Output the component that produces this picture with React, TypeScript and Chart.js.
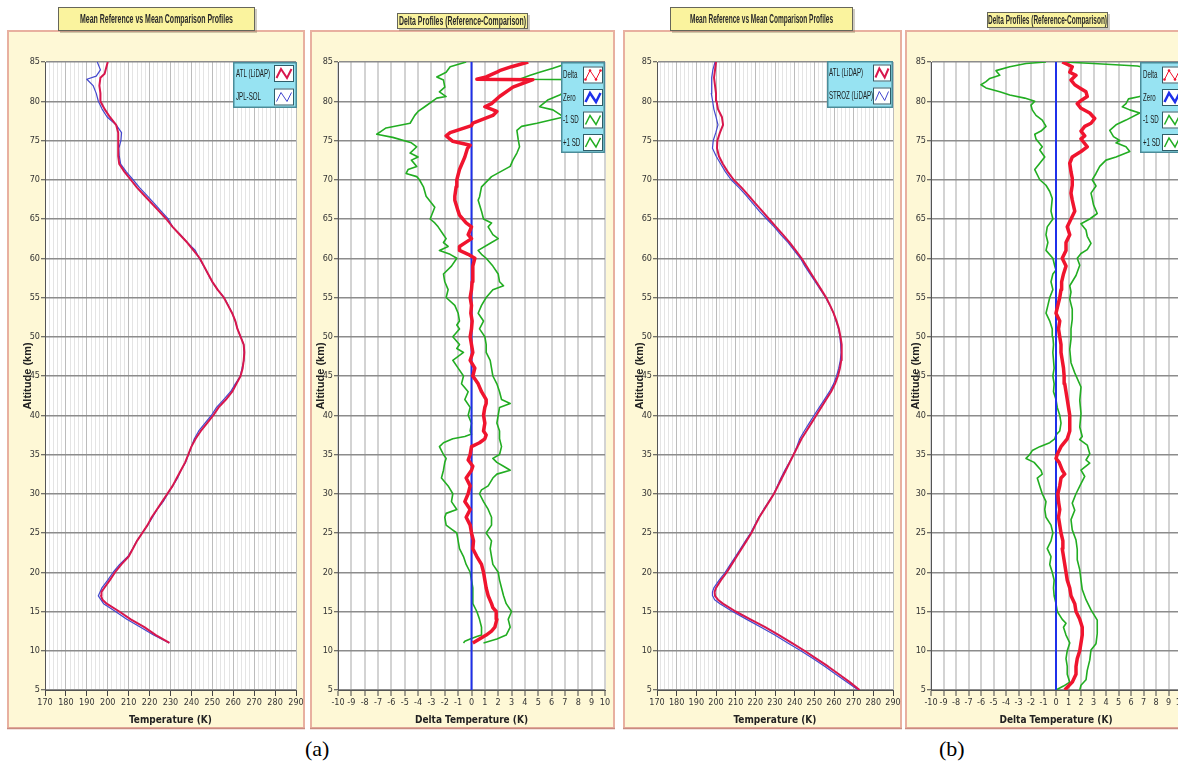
import React, { useEffect, useRef } from "react";
import { Chart, registerables } from "chart.js";

Chart.register(...registerables);

type Pt = [number, number]; // [altitude km, value]

// ---------------- Panel (a) : mean profiles ----------------
const atlProfileA: Pt[] = [
  [11, 229.5], [12, 223], [13, 217.5], [14, 211], [15, 205.5], [16, 199.5], [16.5, 197.5], [17, 196.8], [17.5, 197],
  [18, 198.3], [19, 201], [20, 203.5], [21, 206.5], [22, 210], [23, 212], [24, 214], [25, 216.5], [26, 219], [27, 221],
  [28, 223.5], [29, 226], [30, 228.5], [31, 231], [32, 233], [33, 235], [34, 237], [35, 238.5], [36, 240], [37, 242],
  [38, 244.5], [39, 247.5], [40, 250.5], [41, 253], [42, 256.5], [43, 259.5], [44, 261.5], [45, 263.5], [46, 264.5],
  [47, 265], [48, 265.3], [49, 265], [50, 263.5], [51, 262], [52, 261], [53, 259.5], [54, 257.5], [55, 255.5], [56, 252.5],
  [57, 250], [58, 248], [59, 246], [60, 244], [61, 241], [62, 238], [63, 234.5], [64, 231], [65, 228], [66, 224.5],
  [67, 221], [68, 217.5], [69, 214], [70, 211], [71, 208], [72, 205.5], [73, 205], [74, 205], [75, 205], [76, 205],
  [77, 204], [78, 201], [79, 198.5], [79.5, 197.5], [80, 196.5], [81, 196.5], [82, 196], [83, 196.5], [83.5, 198.5],
  [84, 199], [85, 200],
];
const jplProfileA: Pt[] = [
  [11, 229.4], [12, 221.9], [13, 215.7], [14, 209.1], [15, 203.7], [16, 198.0], [17, 195.5], [18, 197.2], [19, 200.0],
  [20, 202.6], [21, 205.7], [22, 209.6], [23, 211.9], [24, 213.9], [25, 216.5], [26, 219.1], [27, 221.4], [28, 223.6],
  [29, 226.5], [30, 228.7], [31, 231.1], [32, 233.4], [33, 235.0], [34, 237.2], [35, 238.6], [36, 240.0], [37, 241.4],
  [38, 243.5], [39, 246.5], [40, 249.6], [41, 252.0], [42, 255.4], [43, 258.7], [44, 261.0], [45, 263.4], [46, 264.2],
  [47, 265.1], [48, 265.2], [49, 265.0], [50, 263.6], [51, 262.0], [52, 261.0], [53, 259.5], [54, 257.6], [55, 255.6],
  [56, 252.5], [57, 249.9], [58, 247.9], [59, 245.9], [60, 243.7], [61, 241.9], [62, 238.0], [63, 234.7], [64, 231.0],
  [65, 228.9], [66, 225.5], [67, 222.2], [68, 218.7], [69, 215.2], [70, 212.1], [71, 208.9], [72, 206.2], [73, 205.5],
  [74, 205.3], [75, 206.3], [76, 206.6], [77, 204.0], [78, 199.7], [79, 197.3], [80, 195.5], [81, 194.5], [82, 193],
  [82.8, 190], [83.2, 194.5], [84, 196.5], [85, 195],
];

// ---------------- Panel (a) : delta profiles ----------------
const deltaProfileA: Pt[] = [
  [11, 0.1], [11.5, 0.6], [12, 1.1], [12.5, 1.5], [13, 1.75], [14, 1.9], [15, 1.85], [15.5, 1.6], [16, 1.5], [17, 1.25],
  [18, 1.1], [19, 1.0], [20, 0.9], [21, 0.75], [22, 0.4], [23, 0.1], [24, 0.15], [25, 0.0], [26, -0.1], [27, -0.4],
  [28, -0.1], [29, -0.5], [30, -0.25], [31, -0.1], [32, -0.4], [33, 0.0], [33.5, 0.1], [34.3, -0.25], [35, -0.1],
  [36, 0.0], [36.5, 0.6], [37, 1.0], [37.5, 1.1], [38, 0.9], [39, 1.0], [40, 0.9], [41, 1.0], [41.5, 1.1], [42, 1.1],
  [43, 0.75], [44, 0.5], [45, 0.1], [46, 0.25], [47, -0.1], [48, 0.1], [49, 0.0], [50, -0.1], [51, 0.0], [52, 0.05],
  [53, -0.05], [54, 0.0], [55, -0.1], [56, 0.0], [57, 0.05], [58, 0.1], [59, 0.1], [60, 0.25], [60.5, -0.25],
  [61, -0.9], [61.5, -0.9], [62.5, 0.0], [63, -0.25], [64, 0.0], [64.5, -0.4], [65.5, -0.9], [66, -1.0], [67.4, -1.25],
  [67.9, -1.25], [69.1, -1.15], [70, -1.1], [71.3, -0.9], [72.9, -0.5], [74, -0.3], [74.4, -0.1], [74.9, -1.4],
  [75.6, -1.9], [76, -1.6], [76.9, 0.0], [77.2, 0.1], [78.2, 1.6], [78.7, 1.9], [79.3, 1.0], [79.7, 1.5], [80.6, 2.1],
  [81.8, 3.1], [82.75, 4.6], [82.8, 0.4], [83.1, 1.1], [83.7, 1.9], [83.9, 2.1], [84.4, 3.0], [85, 4.25],
];
const minusSdProfileA: Pt[] = [
  [11, -0.6], [11.2, -0.5], [11.5, -0.1], [11.8, 0.4], [12, 0.75], [13, 0.75], [14, 0.6], [15, 0.4], [16, 0.1],
  [17, 0.1], [18, 0.1], [19, 0.0], [20, -0.1], [21, -0.4], [22, -0.6], [23, -0.9], [24, -1.0], [25, -1.1], [25.5, -1.5],
  [26, -1.9], [27, -2.0], [27.5, -1.9], [28, -1.1], [29, -1.5], [30, -1.4], [31, -1.75], [32, -2.25], [33, -2.1],
  [34, -2.0], [34.5, -1.9], [35, -2.1], [35.5, -2.25], [36, -2.4], [36.5, -2.1], [37, -1.4], [37.3, -0.5], [37.6, 0.0],
  [38, -0.1], [39, 0.0], [40, -0.25], [41, -0.1], [42, -0.5], [43, -0.25], [44, -0.75], [45, -0.6], [46, -1.0],
  [47, -1.4], [48, -0.6], [48.5, -1.1], [49, -0.9], [50, -1.4], [51, -0.9], [51.5, -1.1], [52, -0.9], [53, -1.0],
  [54, -1.25], [55, -1.9], [56, -1.75], [57, -2.0], [58, -2.1], [59, -1.5], [60, -1.1], [60.5, -1.6], [61, -2.4],
  [61.5, -1.75], [62, -2.1], [62.5, -1.9], [63, -2.1], [64, -2.5], [64.5, -2.75], [65, -3.1], [66.5, -2.75],
  [67.9, -3.4], [69.1, -3.6], [70, -3.9], [70.4, -4.1], [70.8, -4.9], [71.3, -4.75], [71.7, -4.1], [72.5, -4.5],
  [72.9, -4.0], [73.4, -4.6], [74.2, -4.1], [74.7, -4.5], [75.4, -5.9], [75.8, -7.1], [76.2, -6.75], [76.6, -6.4],
  [77.2, -4.6], [78.2, -4.25], [78.7, -4.0], [79.3, -3.5], [80.4, -2.6], [80.6, -1.9], [81.2, -2.4], [81.8, -2.0],
  [82.7, -2.1], [83.1, -2.6], [83.7, -1.9], [84.4, -1.6], [85, -0.4],
];
const plusSdProfileA: Pt[] = [
  [11, 0.9], [11.5, 1.9], [12, 2.6], [13, 2.9], [14, 2.75], [15, 3.0], [16, 2.6], [17, 2.4], [18, 2.25], [19, 2.1],
  [20, 2.0], [21, 1.6], [22, 1.5], [23, 1.4], [24, 1.5], [25, 1.1], [26, 1.5], [27, 1.5], [28, 1.25], [29, 0.9],
  [30, 0.6], [30.5, 0.75], [31, 1.25], [32, 1.6], [32.5, 1.9], [33, 2.9], [33.5, 2.4], [34, 1.9], [34.5, 1.6],
  [35, 2.1], [36, 2.25], [37, 2.1], [38, 2.1], [39, 1.9], [40, 2.0], [41, 2.1], [41.5, 2.9], [42, 2.25], [43, 2.1],
  [44, 1.9], [45, 1.6], [46, 1.5], [47, 1.4], [48, 1.1], [49, 1.1], [50, 1.0], [51, 0.6], [52, 0.9], [53, 0.5],
  [54, 0.75], [55, 1.1], [56, 1.6], [56.5, 2.4], [57, 2.1], [58, 2.0], [59, 1.6], [60, 1.1], [60.5, 0.75], [61, 0.5],
  [62, 1.5], [62.5, 2.0], [63, 1.6], [64, 1.25], [64.5, 1.5], [65, 0.9], [66, 0.75], [67.4, 0.5], [67.8, 0.6],
  [69.1, 0.75], [70.4, 1.5], [71.7, 2.9], [72.5, 3.1], [73.4, 3.4], [74.2, 3.6], [75.1, 3.5], [76.3, 3.4],
  [76.8, 3.75], [77.2, 4.9], [78.0, 6.9], [78.9, 6.1], [79.3, 5.1], [80.2, 5.75], [80.8, 6.6], [81.5, 7.4],
  [82.0, 7.6], [82.75, 8.5], [82.8, 3.6], [83.3, 4.4], [83.7, 5.1], [84.2, 6.1], [85, 7.5],
];

// ---------------- Panel (b) : mean profiles ----------------
const atlProfileB: Pt[] = [
  [5, 273], [6, 268], [7, 262.5], [8, 257], [9, 251], [10, 245], [11, 238.5], [12, 232], [13, 225], [14, 217.5],
  [15, 210], [16, 203.5], [16.5, 201], [17, 199.5], [17.5, 199.3], [18, 200], [19, 202.5], [20, 205.5], [21, 208],
  [22, 210.5], [23, 213], [24, 215.5], [25, 218], [26, 220], [27, 222], [28, 224.5], [29, 227], [30, 229.5],
  [31, 231.5], [32, 233.5], [33, 235.5], [34, 237.5], [35, 239.5], [36, 241.5], [37, 243.5], [38, 246], [39, 248.5],
  [40, 251], [41, 253.5], [42, 256], [43, 258.5], [44, 260.5], [45, 262], [46, 263], [47, 263.7], [48, 264],
  [49, 263.8], [50, 263.3], [51, 262.5], [52, 261.3], [53, 259.8], [54, 258], [55, 256], [56, 253.5], [57, 251],
  [58, 248.5], [59, 246], [60, 243.5], [61, 240.5], [62, 237.5], [63, 234], [64, 230.5], [65, 227], [66, 223.5],
  [67, 220], [68, 216.5], [69, 213], [70, 209], [71, 206], [72, 203.5], [73, 201.5], [74, 200.5], [75, 200.7],
  [76, 202], [77, 203.6], [78, 203], [79, 201], [80, 200.3], [81, 200], [82, 199.5], [83, 199], [84, 199.5], [85, 200],
];
const strozProfileB: Pt[] = [
  [5, 272.3], [6, 266.7], [7, 260.9], [8, 255.4], [9, 249.3], [10, 243.1], [11, 236.5], [12, 229.9], [13, 222.9],
  [14, 215.6], [15, 208.4], [16, 202.0], [16.5, 199.3], [17, 198.3], [17.5, 198.2], [18, 198.9], [19, 201.6],
  [20, 204.7], [21, 207.3], [22, 209.9], [23, 212.5], [24, 215.0], [25, 217.6], [26, 219.7], [27, 221.8], [28, 224.2],
  [29, 226.8], [30, 229.4], [31, 231.2], [32, 233.0], [33, 235.0], [34, 237.3], [35, 239.4], [36, 241.1], [37, 242.6],
  [38, 244.9], [39, 247.4], [40, 249.9], [41, 252.5], [42, 255.1], [43, 257.7], [44, 259.8], [45, 261.3], [46, 262.4],
  [47, 263.2], [48, 263.6], [49, 263.4], [50, 263.0], [51, 262.3], [52, 261.0], [53, 259.8], [54, 257.9], [55, 255.7],
  [56, 253.1], [57, 250.5], [58, 247.8], [59, 245.2], [60, 242.9], [61, 239.7], [62, 236.7], [63, 232.9], [64, 229.6],
  [65, 225.8], [66, 222.0], [67, 218.7], [68, 215.3], [69, 211.7], [70, 207.7], [71, 204.8], [72, 202.4], [73, 200.1],
  [74, 198.2], [75, 198.6], [76, 199.9], [77, 201.0], [78, 200.0], [79, 198.9], [80, 198.3], [81, 197.6], [82, 197.9],
  [83, 197.7], [84, 198.4], [85, 199.5],
];

// ---------------- Panel (b) : delta profiles ----------------
const deltaProfileB: Pt[] = [
  [5, 0.7], [5.5, 1.0], [6, 1.3], [7, 1.6], [8, 1.6], [9, 1.7], [10, 1.9], [11, 2.0], [12, 2.1], [13, 2.1], [14, 1.9],
  [15, 1.6], [16, 1.5], [17, 1.2], [18, 1.1], [19, 0.9], [20, 0.8], [21, 0.7], [22, 0.6], [23, 0.5], [24, 0.55],
  [25, 0.4], [26, 0.3], [27, 0.2], [28, 0.3], [29, 0.2], [30, 0.15], [31, 0.3], [32, 0.4], [32.5, 0.7], [33, 0.5],
  [34, 0.25], [34.5, 0.0], [35, 0.1], [36, 0.4], [37, 0.9], [38, 1.1], [39, 1.1], [40, 1.1], [41, 1.0], [42, 0.9],
  [43, 0.8], [44, 0.7], [45, 0.65], [46, 0.6], [47, 0.5], [48, 0.4], [49, 0.4], [50, 0.3], [51, 0.2], [52, 0.3],
  [53, 0.0], [54, 0.15], [55, 0.3], [56, 0.4], [57, 0.45], [58, 0.6], [59, 0.8], [60, 0.5], [61, 0.8], [62, 0.8],
  [63, 1.1], [64, 0.9], [65, 1.2], [66, 1.5], [67.4, 1.3], [68.3, 1.2], [69.3, 1.3], [70.2, 1.3], [71.0, 1.2],
  [72.1, 1.1], [72.9, 1.3], [73.6, 2.0], [74.2, 2.5], [75.2, 2.0], [75.6, 2.3], [76.2, 2.0], [76.8, 2.3], [77.2, 2.8],
  [77.8, 3.1], [78.5, 2.7], [79.1, 2.0], [79.7, 1.7], [80.2, 2.1], [80.6, 2.5], [81.2, 2.4], [81.7, 1.9], [82.1, 1.5],
  [82.7, 1.2], [83.3, 1.6], [83.7, 1.1], [84.4, 1.3], [85, 0.5],
];
const minusSdProfileB: Pt[] = [
  [5, 0.0], [5.5, 0.6], [6, 1.1], [7, 0.9], [8, 0.9], [9, 0.8], [10, 0.9], [11, 1.1], [12, 0.8], [13, 0.6], [13.5, 0.8],
  [14, 0.5], [15, 0.1], [16, 0.0], [17, -0.15], [18, -0.2], [19, -0.15], [20, -0.3], [21, -0.5], [22, -0.4], [23, -0.7],
  [24, -0.4], [25, -0.25], [26, -0.4], [27, -0.8], [28, -0.9], [29, -0.8], [30, -1.1], [31, -1.3], [32, -1.5],
  [32.5, -1.1], [33, -1.2], [34, -1.75], [34.5, -2.4], [35, -2.1], [35.5, -1.9], [36, -1.3], [36.5, -0.5], [37, -0.1],
  [37.5, 0.0], [38, 0.3], [39, 0.4], [40, 0.3], [41, 0.1], [42, 0.0], [43, -0.2], [44, -0.15], [45, -0.25], [46, -0.15],
  [47, -0.2], [48, -0.25], [49, -0.2], [50, -0.25], [51, -0.3], [52, -0.5], [53, -0.8], [54, -0.65], [55, -0.5],
  [56, -0.25], [57, -0.4], [58, -0.25], [58.5, 0.0], [59, -0.1], [60, -0.25], [61, -0.8], [62, -0.65], [63, -0.8],
  [64, -0.7], [65, -0.25], [66, -0.4], [67.6, -0.3], [68.5, -0.5], [69.3, -0.8], [70.0, -1.3], [71.3, -1.7],
  [72.1, -1.3], [72.9, -0.9], [73.8, -1.3], [74.2, -1.1], [75.2, -1.6], [75.8, -1.7], [76.2, -1.2], [76.8, -0.8],
  [77.6, -1.1], [78.2, -1.6], [78.9, -1.9], [79.5, -2.0], [80.0, -1.7], [80.4, -2.5], [80.8, -3.7], [81.2, -4.5],
  [81.7, -5.6], [82.1, -6.0], [82.5, -5.6], [82.9, -5.3], [83.3, -4.5], [83.9, -4.8], [84.4, -3.7], [84.8, -2.4],
  [85, -0.8],
];
const plusSdProfileB: Pt[] = [
  [5, 1.9], [5.6, 2.0], [6.3, 2.4], [7.5, 2.5], [8.8, 2.7], [10.1, 2.8], [10.9, 3.2], [12.2, 3.3], [13.9, 3.3],
  [15.2, 2.8], [16.5, 2.4], [17.8, 2.1], [19.0, 2.0], [20.3, 1.9], [21.6, 1.7], [22.9, 1.7], [24.1, 1.6], [25.4, 1.3],
  [26.7, 1.2], [27.9, 1.5], [28.8, 1.3], [30.0, 1.6], [31.3, 2.0], [32.2, 2.3], [33.0, 2.0], [33.9, 2.7], [34.3, 2.4],
  [35.1, 2.7], [36.2, 2.5], [36.9, 1.9], [37.3, 2.1], [38.5, 1.9], [40.2, 2.0], [41.9, 1.9], [43.6, 2.0], [45.4, 1.5],
  [46.7, 1.2], [48.4, 1.1], [49.7, 1.2], [51.0, 1.2], [52.2, 1.3], [53.5, 1.3], [54.8, 1.1], [55.7, 1.2], [56.5, 1.1],
  [57.8, 1.6], [59.1, 1.9], [60.0, 1.7], [60.6, 2.0], [61.1, 2.5], [61.9, 2.8], [62.8, 2.5], [63.6, 2.4], [64.4, 2.0],
  [65.0, 2.7], [65.7, 3.3], [66.8, 3.0], [67.6, 2.9], [68.3, 2.8], [69.2, 3.2], [70.0, 2.9], [70.8, 3.2], [71.7, 3.5],
  [72.5, 4.0], [72.9, 4.8], [73.6, 5.9], [74.2, 5.6], [74.7, 4.8], [75.0, 5.1], [75.5, 4.6], [76.3, 4.3], [77.0, 4.8],
  [77.6, 5.6], [78.5, 6.7], [78.9, 5.9], [79.3, 5.3], [79.7, 5.6], [80.3, 5.8], [80.6, 6.7], [81.5, 7.5], [83, 8.5],
  [84, 8.0], [84.5, 6.5], [84.8, 3.0], [85, 0.6],
];

const zeroLine: Pt[] = [[5, 0], [85, 0]];

// ---------------- Axes ----------------
const altitudeTicks = [5, 10, 15, 20, 25, 30, 35, 40, 45, 50, 55, 60, 65, 70, 75, 80, 85];
const temperatureLabels = [170, 180, 190, 200, 210, 220, 230, 240, 250, 260, 270, 280, 290];
const temperatureMinorStep = 2;
const deltaTicks = [-10, -9, -8, -7, -6, -5, -4, -3, -2, -1, 0, 1, 2, 3, 4, 5, 6, 7, 8, 9, 10];

const AXIS_FONT = '"Liberation Sans Narrow", "Arial Narrow", "DejaVu Sans Condensed", "Liberation Sans", sans-serif';
const BOX_FONT = '"Liberation Sans", Arial, sans-serif';
const TEXT_SX = 0.56;
const H = 735;

const C = {
  frameFill: "#FEF8D6",
  frameBorder: "#E8B0A0",
  titleFill: "#FAF39E",
  titleBorder: "#66665a",
  legendFill: "#97E3F2",
  legendBorder: "#4B8C99",
  red: "#D8174D",
  blue: "#4347CF",
  deltaRed: "#F0142E",
  zeroBlue: "#1F30EA",
  green: "#22AD22",
  hGrid: "#8c8c8c",
  vMajor: "#bcbcbc",
  vMinor: "#e4e4e4",
  vDelta: "#d3d3d3",
  axis: "#555555",
  tick: "#333333",
};

type Rect = [number, number, number, number];
interface Series { label: string; data: Pt[]; color: string; width: number; swatchWidth: number; dots?: boolean }
interface PanelCfg {
  left: number;
  width: number;
  padLeft: number;
  padRight: number;
  yWidth: number;
  frame: Rect;
  titleBox: Rect;
  titleText: string;
  titleW: number;
  legendBox: Rect;
  row0: number;
  rowH: number;
  textX: number;
  swX: number;
  swW: number;
  swH: number;
  kind: "temp" | "delta";
  xTitle: string;
  series: Series[];
}

function drawSquashed(ctx: CanvasRenderingContext2D, text: string, x: number, y: number, font: string, color: string, align: CanvasTextAlign, targetW?: number) {
  ctx.save();
  ctx.font = font;
  const w = ctx.measureText(text).width;
  const sx = targetW ? targetW / w : TEXT_SX;
  ctx.translate(x, y);
  ctx.scale(sx, 1);
  ctx.fillStyle = color;
  ctx.textAlign = align;
  ctx.textBaseline = "middle";
  ctx.fillText(text, 0, 0);
  ctx.restore();
}

function makeDecor(cfg: PanelCfg) {
  return {
    id: "decor",
    beforeDraw(chart: any) {
      const { ctx, chartArea } = chart;
      ctx.save();
      ctx.fillStyle = "#ffffff";
      ctx.fillRect(0, 0, chart.width, chart.height);
      const [x0, y0, x1, y1] = cfg.frame;
      ctx.fillStyle = C.frameFill;
      ctx.fillRect(x0, y0, x1 - x0, y1 - y0);
      ctx.strokeStyle = C.frameBorder;
      ctx.lineWidth = 2;
      ctx.strokeRect(x0 + 1, y0 + 1, x1 - x0 - 2, y1 - y0 - 2);
      ctx.strokeStyle = "#c98c80";
      ctx.lineWidth = 1.5;
      ctx.beginPath();
      ctx.moveTo(x0, y1 - 0.5);
      ctx.lineTo(x1, y1 - 0.5);
      ctx.stroke();
      ctx.fillStyle = "#ffffff";
      ctx.fillRect(chartArea.left, chartArea.top, chartArea.right - chartArea.left, chartArea.bottom - chartArea.top);
      ctx.restore();
    },
    afterDraw(chart: any) {
      const { ctx } = chart;
      ctx.save();
      // title box
      const [tx0, ty0, tx1, ty1] = cfg.titleBox;
      ctx.fillStyle = "rgba(120,110,80,0.35)";
      ctx.fillRect(tx0 + 2, ty0 + 2, tx1 - tx0, ty1 - ty0);
      ctx.fillStyle = C.titleFill;
      ctx.fillRect(tx0, ty0, tx1 - tx0, ty1 - ty0);
      ctx.strokeStyle = C.titleBorder;
      ctx.lineWidth = 1;
      ctx.strokeRect(tx0 + 0.5, ty0 + 0.5, tx1 - tx0 - 1, ty1 - ty0 - 1);
      drawSquashed(ctx, cfg.titleText, (tx0 + tx1) / 2, (ty0 + ty1) / 2 + 0.5, `bold 12px ${BOX_FONT}`, "#2a2a2a", "center", cfg.titleW);

      // legend box
      const [lx0, ly0, lx1, ly1] = cfg.legendBox;
      ctx.fillStyle = C.legendFill;
      ctx.fillRect(lx0, ly0, lx1 - lx0, ly1 - ly0);
      ctx.strokeStyle = C.legendBorder;
      ctx.lineWidth = 1.5;
      ctx.strokeRect(lx0 + 0.75, ly0 + 0.75, lx1 - lx0 - 1.5, ly1 - ly0 - 1.5);
      cfg.series.forEach((s, i) => {
        const cy = ly0 + cfg.row0 + i * cfg.rowH;
        drawSquashed(ctx, s.label, lx0 + cfg.textX, cy, `11px ${BOX_FONT}`, "#1a1a1a", "left");
        const sx = lx0 + cfg.swX;
        const sy = cy - cfg.swH / 2;
        ctx.fillStyle = "#ffffff";
        ctx.fillRect(sx, sy, cfg.swW, cfg.swH);
        ctx.strokeStyle = "#2f5d68";
        ctx.lineWidth = 1;
        ctx.strokeRect(sx + 0.5, sy + 0.5, cfg.swW - 1, cfg.swH - 1);
        const pts: [number, number][] = [
          [sx + 2.5, sy + cfg.swH - 4],
          [sx + cfg.swW * 0.35, sy + 4],
          [sx + cfg.swW * 0.65, sy + cfg.swH - 4],
          [sx + cfg.swW - 2.5, sy + 4],
        ];
        ctx.strokeStyle = s.color;
        ctx.lineWidth = s.swatchWidth;
        ctx.lineJoin = "miter";
        ctx.beginPath();
        pts.forEach(([px, py], k) => (k === 0 ? ctx.moveTo(px, py) : ctx.lineTo(px, py)));
        ctx.stroke();
        if (s.dots) {
          ctx.fillStyle = s.color;
          pts.forEach(([px, py]) => {
            ctx.beginPath();
            ctx.arc(px, py, 1.3, 0, Math.PI * 2);
            ctx.fill();
          });
        }
      });
      ctx.restore();
    },
  };
}

function temperatureTickValues(): number[] {
  const out: number[] = [];
  for (let i = 0; i < temperatureLabels.length; i++) {
    const v = temperatureLabels[i];
    out.push(v);
    if (i < temperatureLabels.length - 1) {
      for (let m = v + temperatureMinorStep; m < temperatureLabels[i + 1]; m += temperatureMinorStep) out.push(m);
    }
  }
  return out;
}

function buildChart(canvas: HTMLCanvasElement, cfg: PanelCfg) {
  const isTemp = cfg.kind === "temp";
  const xMin = isTemp ? temperatureLabels[0] : deltaTicks[0];
  const xMax = isTemp ? temperatureLabels[temperatureLabels.length - 1] : deltaTicks[deltaTicks.length - 1];
  const xTickValues = isTemp ? temperatureTickValues() : deltaTicks;
  const isMajor = (v: number) => (isTemp ? temperatureLabels.includes(v) : true);

  return new Chart(canvas, {
    type: "scatter",
    data: {
      datasets: cfg.series.map((s) => ({
        label: s.label,
        data: s.data.map(([alt, v]) => ({ x: v, y: alt })),
        showLine: true,
        borderColor: s.color,
        backgroundColor: s.color,
        borderWidth: s.width,
        pointRadius: 0,
        pointHoverRadius: 0,
        tension: 0,
        fill: false,
        borderJoinStyle: "round" as const,
      })),
    },
    options: {
      responsive: false,
      maintainAspectRatio: false,
      animation: false,
      devicePixelRatio: 1,
      events: [],
      layout: { padding: { left: cfg.padLeft, right: cfg.padRight, top: 62, bottom: 5 } },
      plugins: { legend: { display: false }, tooltip: { enabled: false }, title: { display: false } },
      scales: {
        x: {
          type: "linear",
          min: xMin,
          max: xMax,
          afterBuildTicks: (s: any) => {
            s.ticks = xTickValues.map((value) => ({ value }));
          },
          afterFit: (s: any) => {
            s.height = 40;
          },
          ticks: {
            autoSkip: false,
            maxRotation: 0,
            minRotation: 0,
            padding: 1,
            color: C.tick,
            font: { family: AXIS_FONT, size: 9 },
            callback: (v: any) => (isMajor(Number(v)) ? String(v) : ""),
          },
          grid: {
            color: (ctx: any) => (isTemp ? (ctx.tick && isMajor(ctx.tick.value) ? C.vMajor : C.vMinor) : C.vDelta),
            lineWidth: isTemp ? 1 : 2,
            tickLength: 6,
            tickWidth: 1,
            tickColor: (ctx: any) => (ctx.tick && isMajor(ctx.tick.value) ? "#444" : "rgba(0,0,0,0)"),
          },
          border: { display: true, color: C.axis, width: 1 },
          title: {
            display: true,
            text: cfg.xTitle,
            color: "#222",
            font: { family: AXIS_FONT, size: 10, weight: "bold" },
            padding: { top: 0, bottom: 4 },
          },
        },
        y: {
          type: "linear",
          min: altitudeTicks[0],
          max: altitudeTicks[altitudeTicks.length - 1],
          afterBuildTicks: (s: any) => {
            s.ticks = altitudeTicks.map((value) => ({ value }));
          },
          afterFit: (s: any) => {
            s.width = cfg.yWidth;
          },
          ticks: { padding: 1, color: C.tick, font: { family: AXIS_FONT, size: 9 } },
          grid: { color: C.hGrid, lineWidth: 1.5, tickLength: 4, tickWidth: 1, tickColor: "#444" },
          border: { display: true, color: C.axis, width: 1 },
          title: {
            display: true,
            text: "Altitude (km)",
            color: "#222",
            font: { family: BOX_FONT, size: 11, weight: "bold" },
            padding: { top: 6, bottom: 0 },
          },
        },
      },
    } as any,
    plugins: [makeDecor(cfg)],
  });
}

const panels: PanelCfg[] = [
  {
    left: 0, width: 310, padLeft: 15, padRight: 14, yWidth: 30,
    frame: [7, 30, 305, 729],
    titleBox: [58, 7, 255, 31], titleText: "Mean Reference vs Mean Comparison Profiles", titleW: 153,
    legendBox: [233, 62, 297, 108], row0: 11.5, rowH: 23.5, textX: 3, swX: 41, swW: 20, swH: 17,
    kind: "temp", xTitle: "Temperature (K)",
    series: [
      { label: "ATL (LiDAP)", data: atlProfileA, color: C.red, width: 2, swatchWidth: 2 },
      { label: "JPL-SOL", data: jplProfileA, color: C.blue, width: 1.2, swatchWidth: 1 },
    ],
  },
  {
    left: 308, width: 312, padLeft: 0, padRight: 15, yWidth: 30,
    frame: [2, 30, 307, 729],
    titleBox: [89, 13, 220, 29], titleText: "Delta Profiles (Reference-Comparison)", titleW: 127,
    legendBox: [253, 62, 297, 153], row0: 13, rowH: 22.5, textX: 2, swX: 22, swW: 20, swH: 17,
    kind: "delta", xTitle: "Delta Temperature (K)",
    series: [
      { label: "Delta", data: deltaProfileA, color: C.deltaRed, width: 3.5, swatchWidth: 1, dots: true },
      { label: "Zero", data: zeroLine, color: C.zeroBlue, width: 2, swatchWidth: 2.5 },
      { label: "-1 SD", data: minusSdProfileA, color: C.green, width: 1.6, swatchWidth: 1.5 },
      { label: "+1 SD", data: plusSdProfileA, color: C.green, width: 1.6, swatchWidth: 1.5 },
    ],
  },
  {
    left: 620, width: 283, padLeft: 7, padRight: 10, yWidth: 30,
    frame: [3, 30, 282, 729],
    titleBox: [50, 7, 233, 31], titleText: "Mean Reference vs Mean Comparison Profiles", titleW: 143,
    legendBox: [207, 61, 273, 108], row0: 12, rowH: 23, textX: 2, swX: 46, swW: 18, swH: 17,
    kind: "temp", xTitle: "Temperature (K)",
    series: [
      { label: "ATL (LiDAP)", data: atlProfileB, color: C.red, width: 2, swatchWidth: 2 },
      { label: "STROZ (LiDAP)", data: strozProfileB, color: C.blue, width: 1.2, swatchWidth: 1 },
    ],
  },
  {
    left: 903, width: 290, padLeft: 0, padRight: 12, yWidth: 28,
    frame: [2, 30, 300, 729],
    titleBox: [84, 12, 205, 28], titleText: "Delta Profiles (Reference-Comparison)", titleW: 119,
    legendBox: [237, 62, 300, 153], row0: 13, rowH: 22.5, textX: 3, swX: 22, swW: 20, swH: 17,
    kind: "delta", xTitle: "Delta Temperature (K)",
    series: [
      { label: "Delta", data: deltaProfileB, color: C.deltaRed, width: 3.5, swatchWidth: 1, dots: true },
      { label: "Zero", data: zeroLine, color: C.zeroBlue, width: 2, swatchWidth: 2.5 },
      { label: "-1 SD", data: minusSdProfileB, color: C.green, width: 1.6, swatchWidth: 1.5 },
      { label: "+1 SD", data: plusSdProfileB, color: C.green, width: 1.6, swatchWidth: 1.5 },
    ],
  },
];

function Panel({ cfg }: { cfg: PanelCfg }) {
  const ref = useRef<HTMLCanvasElement | null>(null);
  useEffect(() => {
    if (!ref.current) return;
    const chart = buildChart(ref.current, cfg);
    return () => chart.destroy();
  }, [cfg]);
  return (
    <canvas
      ref={ref}
      width={cfg.width}
      height={H}
      style={{ position: "absolute", left: cfg.left, top: 0, width: cfg.width, height: H, display: "block" }}
    />
  );
}

export default function App() {
  return (
    <div
      style={{
        position: "fixed",
        left: 0,
        top: 0,
        width: 1178,
        height: 763,
        overflow: "hidden",
        background: "#ffffff",
      }}
    >
      {panels.map((p, i) => (
        <Panel key={i} cfg={p} />
      ))}
      <div style={{ position: "absolute", left: 305, top: 737, font: '22px "Liberation Serif", "Times New Roman", serif', color: "#000", lineHeight: "24px" }}>(a)</div>
      <div style={{ position: "absolute", left: 939, top: 737, font: '22px "Liberation Serif", "Times New Roman", serif', color: "#000", lineHeight: "24px" }}>(b)</div>
    </div>
  );
}
